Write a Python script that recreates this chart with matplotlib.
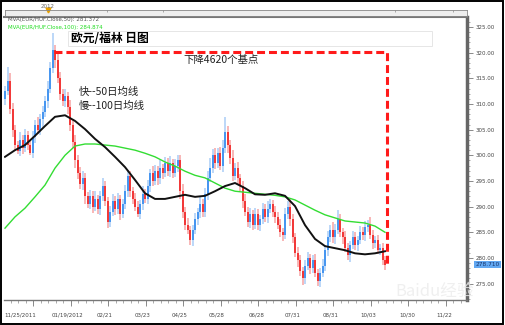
import numpy as np
import matplotlib
matplotlib.use("Agg")
import matplotlib.pyplot as plt
from matplotlib.patches import Rectangle
from matplotlib.ticker import MultipleLocator, NullFormatter
import matplotlib.transforms as mtransforms

plt.rcParams['font.family'] = ['DejaVu Sans', 'Noto Sans CJK SC']
CJK = ['Noto Sans CJK SC', 'DejaVu Sans']

# --- EUR/HUF daily bars (one bar ~ 1.5 trading days) ---
open0 = 311.0
close = [
    312.5, 314.5, 309.0, 305.0, 302.0, 300.8, 303.0, 301.5, 304.0, 302.0,
    300.5, 303.5, 306.0, 305.0, 307.0, 308.5, 310.5, 313.0, 317.0, 320.5,
    318.5, 315.0, 312.0, 310.5, 311.5, 309.5, 306.0, 302.5, 299.0, 296.5,
    294.5, 295.5, 292.0, 290.5, 292.0, 290.0, 291.5, 289.5, 292.0, 294.0,
    291.0, 287.0, 289.0, 291.0, 289.5, 291.5, 288.5, 290.5, 293.0, 296.0,
    293.0, 291.5, 290.0, 288.5, 290.5, 292.5, 291.5, 294.0, 296.5, 295.0,
    297.0, 295.5, 297.5, 296.5, 298.5, 297.0, 298.5, 296.5, 298.0, 299.0,
    293.0, 289.0, 286.5, 285.5, 283.5, 285.5, 287.5, 289.0, 290.5, 289.0,
    292.5, 295.5, 297.5, 300.0, 298.5, 300.5, 298.0, 301.5, 304.5, 302.0,
    299.5, 296.0, 297.5, 295.5, 294.0, 291.0, 289.0, 287.0, 288.5, 286.5,
    288.5, 286.5, 287.5, 289.5, 288.0, 289.5, 290.5, 289.0, 288.0, 286.5,
    285.0, 284.5, 288.5, 290.0, 287.5, 284.0, 281.0, 279.5, 277.5, 276.0,
    278.5, 280.0, 278.0, 279.5, 277.0, 275.5, 277.0, 278.5, 281.5, 284.0,
    285.5, 284.0, 285.5, 287.5, 285.0, 284.0, 282.0, 280.5, 282.5, 284.0,
    282.5, 283.5, 285.0, 284.5, 286.0, 286.5, 284.5, 283.0, 283.5, 281.5,
    282.0, 279.5, 278.71,
]
wick_up = [
    1.0, 2.7, 1.5, 1.2, 1.0, 0.8, 1.5, 1.0, 1.2, 0.8,
    1.0, 1.2, 0.8, 1.5, 1.0, 1.2, 1.0, 1.5, 1.2, 3.3,
    1.0, 1.5, 1.2, 1.0, 1.5, 0.8, 1.2, 1.0, 1.5, 1.0,
    1.2, 1.5, 1.0, 0.8, 1.2, 1.0, 1.5, 0.8, 1.0, 1.5,
    1.0, 0.8, 1.2, 1.5, 1.0, 1.2, 0.8, 1.0, 1.2, 1.2,
    1.0, 0.8, 1.2, 1.0, 0.8, 1.5, 1.0, 1.2, 0.8, 1.5,
    1.2, 1.0, 1.5, 0.8, 1.2, 1.0, 1.3, 0.8, 1.2, 1.0,
    1.0, 1.5, 1.0, 1.2, 0.8, 1.0, 1.2, 0.8, 1.5, 1.0,
    1.2, 1.5, 2.0, 1.2, 1.5, 1.0, 1.2, 1.5, 3.0, 1.2,
    1.0, 1.5, 1.0, 1.2, 0.8, 1.0, 1.5, 1.0, 1.2, 0.8,
    1.2, 1.0, 0.8, 1.2, 1.0, 1.5, 1.0, 0.8, 1.2, 1.0,
    1.0, 0.8, 1.2, 1.0, 1.5, 1.0, 0.8, 1.2, 1.0, 0.8,
    1.0, 1.2, 0.8, 1.0, 1.2, 0.8, 1.0, 1.2, 1.0, 1.2,
    1.0, 1.5, 1.2, 1.8, 1.0, 0.8, 1.2, 1.0, 0.8, 1.2,
    1.0, 0.8, 1.2, 1.0, 1.2, 0.8, 1.5, 1.0, 0.8, 1.0,
    0.8, 1.0, 0.8,
]
wick_dn = [
    1.2, 0.8, 1.0, 1.5, 1.2, 0.5, 1.0, 1.2, 0.8, 1.0,
    0.5, 1.0, 1.2, 0.8, 1.0, 1.5, 1.0, 1.2, 0.8, 1.0,
    1.5, 1.0, 1.2, 0.8, 1.0, 1.5, 1.2, 1.0, 1.5, 1.2,
    1.0, 1.2, 1.5, 0.8, 1.0, 1.2, 0.8, 1.0, 1.2, 1.0,
    0.8, 1.2, 1.0, 0.8, 1.2, 1.0, 1.2, 0.8, 1.0, 1.2,
    1.2, 1.0, 0.8, 0.5, 1.0, 1.2, 0.8, 1.0, 1.2, 1.0,
    0.8, 1.2, 1.0, 1.2, 0.8, 1.0, 1.2, 1.0, 0.8, 1.2,
    1.5, 1.2, 1.0, 0.8, 1.0, 1.2, 0.8, 1.0, 1.2, 1.0,
    1.0, 1.2, 0.8, 1.0, 1.2, 1.0, 0.8, 1.2, 1.0, 1.5,
    1.2, 1.0, 0.8, 1.2, 1.0, 1.2, 0.8, 1.0, 1.2, 1.0,
    0.8, 1.0, 1.2, 0.8, 1.0, 1.2, 0.8, 1.0, 1.2, 0.8,
    1.0, 1.2, 0.8, 1.0, 1.2, 1.0, 0.8, 1.2, 1.0, 1.2,
    1.0, 0.8, 1.2, 1.0, 0.8, 1.0, 1.2, 0.8, 1.0, 1.2,
    0.8, 1.0, 1.2, 0.8, 1.0, 1.2, 0.8, 1.0, 1.2, 0.8,
    1.0, 1.2, 0.8, 1.0, 1.2, 1.0, 0.8, 1.2, 1.0, 0.8,
    1.0, 0.8, 1.0,
]

# moving averages sampled every 4 bars
ma_step = 4
ma50 = [299.7, 301.0, 302.0, 303.8, 305.7, 307.5, 307.8, 306.7, 305.1, 303.2,
        301.6, 299.7, 297.7, 295.2, 292.6, 291.5, 291.5, 291.9, 292.3, 291.9,
        292.1, 293.0, 294.0, 294.6, 293.6, 292.4, 292.3, 292.6, 292.1, 290.1,
        286.4, 283.7, 282.3, 281.9, 281.5, 280.9, 280.7, 280.9, 281.3]
ma100 = [285.8, 288.0, 289.7, 291.9, 294.2, 297.5, 300.0, 301.8, 302.2, 302.2,
         302.0, 301.8, 301.4, 301.0, 300.4, 299.7, 298.7, 297.9, 296.9, 296.1,
         295.6, 294.6, 293.6, 293.0, 292.8, 292.6, 292.4, 292.2, 291.9, 291.3,
         290.3, 289.3, 288.4, 287.8, 287.2, 287.0, 286.8, 286.2, 285.0]
ma50_last = 281.372
ma100_last = 284.874

date_labels = ['11/25/2011', '01/19/2012', '02/21', '03/23', '04/25', '05/28',
               '06/28', '07/31', '08/31', '10/03', '10/30', '11/22']
label_bar = [6, 25.2, 40, 55.2, 70, 84.8, 100.8, 115.2, 130.4, 145.2, 160.8, 175.6]
y_ticks = [275, 280, 285, 290, 295, 300, 305, 310, 315, 320, 325]

# annotation: drop from the January top
drop_top = 320.1
drop_start_bar = 19.6


W, H = 505, 325
def fx(px):
    return px / W
def fy(py):
    return 1 - py / H

fig = plt.figure(figsize=(W / 100, H / 100), dpi=100)

ax = fig.add_axes([fx(4), fy(300), (467 - 4) / W, (300 - 17) / H])
x = np.arange(len(close))
c = np.array(close)
o = np.r_[open0, c[:-1]]
up = c >= o
hi = np.maximum(o, c) + np.array(wick_up)
lo = np.minimum(o, c) - np.array(wick_dn)

ax.vlines(x[up], lo[up], hi[up], colors='#a9cdf6', lw=1.1, zorder=2)
ax.vlines(x[~up], lo[~up], hi[~up], colors='#f6a3a3', lw=1.1, zorder=2)
ax.vlines(x[up], o[up], c[up], colors='#3b8ff0', lw=1.3, zorder=3)
ax.vlines(x[~up], o[~up], c[~up], colors='#f22c2c', lw=1.3, zorder=3)

ma_x = np.arange(len(ma50)) * ma_step
ax.plot(ma_x, ma100, color='#33dd33', lw=1.0, zorder=4)
ax.plot(ma_x, ma50, color='#111111', lw=1.4, zorder=5)

# red dashed frame of the drop
last = len(close) - 1 + 0.8
ax.plot([drop_start_bar, last, last], [drop_top, drop_top, close[-1]],
        color='#ff1a1a', lw=2.2, dashes=(2.6, 1.3), zorder=6,
        solid_joinstyle='miter', dash_joinstyle='miter')

ax.set_xlim(-0.4, 184.8)
ax.set_ylim(271.8, 326.95)

ax.yaxis.tick_right()
ax.set_yticks(y_ticks)
ax.set_yticklabels([f'{v:.2f}' for v in y_ticks])
ax.yaxis.set_minor_locator(MultipleLocator(1))
ax.tick_params(axis='y', which='major', length=4, width=0.6, colors='#777777',
               labelcolor='#444444', labelsize=4, pad=2.5)
ax.tick_params(axis='y', which='minor', length=2, width=0.5, colors='#888888')

ax.set_xticks(label_bar)
ax.set_xticklabels(date_labels)
ax.xaxis.set_minor_locator(MultipleLocator(3.0, offset=2.2))
ax.xaxis.set_minor_formatter(NullFormatter())
ax.tick_params(axis='x', which='major', length=0, labelsize=4, labelcolor='#444444', pad=9)
ax.tick_params(axis='x', which='minor', length=2.5, width=0.5, colors='#888888')
sec = ax.secondary_xaxis('bottom')
sec.set_xticks(np.arange(11.2, 184, 15))
sec.tick_params(length=4.5, width=0.6, colors='#777777', labelbottom=False)
sec.spines['bottom'].set_visible(False)

ax.spines['left'].set_visible(False)
ax.spines['top'].set_color('#777777')
ax.spines['top'].set_linewidth(1.5)
ax.spines['right'].set_color('#666666')
ax.spines['right'].set_linewidth(2.5)
ax.spines['bottom'].set_color('#777777')
ax.spines['bottom'].set_linewidth(1.0)

# last price tag
tr = mtransforms.blended_transform_factory(ax.transAxes, ax.transData)
ax.text(1.018, close[-1], f'{close[-1]:.3f}', transform=tr, fontsize=4.2,
        color='#16336b', va='center', ha='left', clip_on=False,
        bbox=dict(boxstyle='square,pad=0.25', fc='#62a8f2', ec='none'))

# navigator strip
nav = fig.add_axes([fx(5), fy(16), 462 / W, 6 / H])
nav.set_facecolor('#eeeeee')
nav.set_xlim(0, 1)
nav.set_ylim(0, 1)
nav.set_xticks([0.221, 0.342, 0.844, 0.970])
nav.set_yticks([])
nav.tick_params(axis='x', top=True, bottom=False, direction='in', length=1.5,
                width=0.5, colors='#888888', labelbottom=False)
for s in nav.spines.values():
    s.set_color('#888888')
    s.set_linewidth(0.6)
nav.plot([0.093], [0.95], marker='v', color='#e8a000', ms=3.5, clip_on=False)
fig.text(fx(48), fy(6), '2012', fontsize=4, color='#666666', ha='center', va='center')

# moving-average legend
fig.text(fx(8), fy(20), f'MVA(EUR/HUF.Close,50): {ma50_last}', fontsize=4,
         color='#555555', va='center')
fig.text(fx(8), fy(27), f'MVA(EUR/HUF.Close,100): {ma100_last}', fontsize=4,
         color='#22dd22', va='center')

# title box
fig.patches.append(Rectangle((fx(68), fy(46)), 364 / W, 15 / H, transform=fig.transFigure,
                             fc='white', ec='#e2e2e2', lw=0.6, zorder=5))
fig.text(fx(71), fy(38.5), '欧元/福林 日图', fontsize=8.5, fontweight='bold',
         family=CJK, color='black', va='center', zorder=6)

fig.text(fx(183), fy(60), '下降4620个基点', fontsize=7.5, family=CJK,
         color='#222222', va='center')
fig.text(fx(79), fy(92), '快--50日均线', fontsize=7.5, family=CJK,
         color='#222222', va='center')
fig.text(fx(79), fy(106), '慢--100日均线', fontsize=7.5, family=CJK,
         color='#222222', va='center')

# faint watermark
fig.text(fx(395), fy(291), 'Baidu经验', fontsize=12, family=CJK,
         color='#ececec', alpha=0.8, va='center', zorder=7)

# outer frame
fig.patches.append(Rectangle((0.002, 0.004), 0.995, 0.992, transform=fig.transFigure,
                             fill=False, ec='black', lw=1.4, zorder=8))

fig.savefig('out.png', dpi=100)
